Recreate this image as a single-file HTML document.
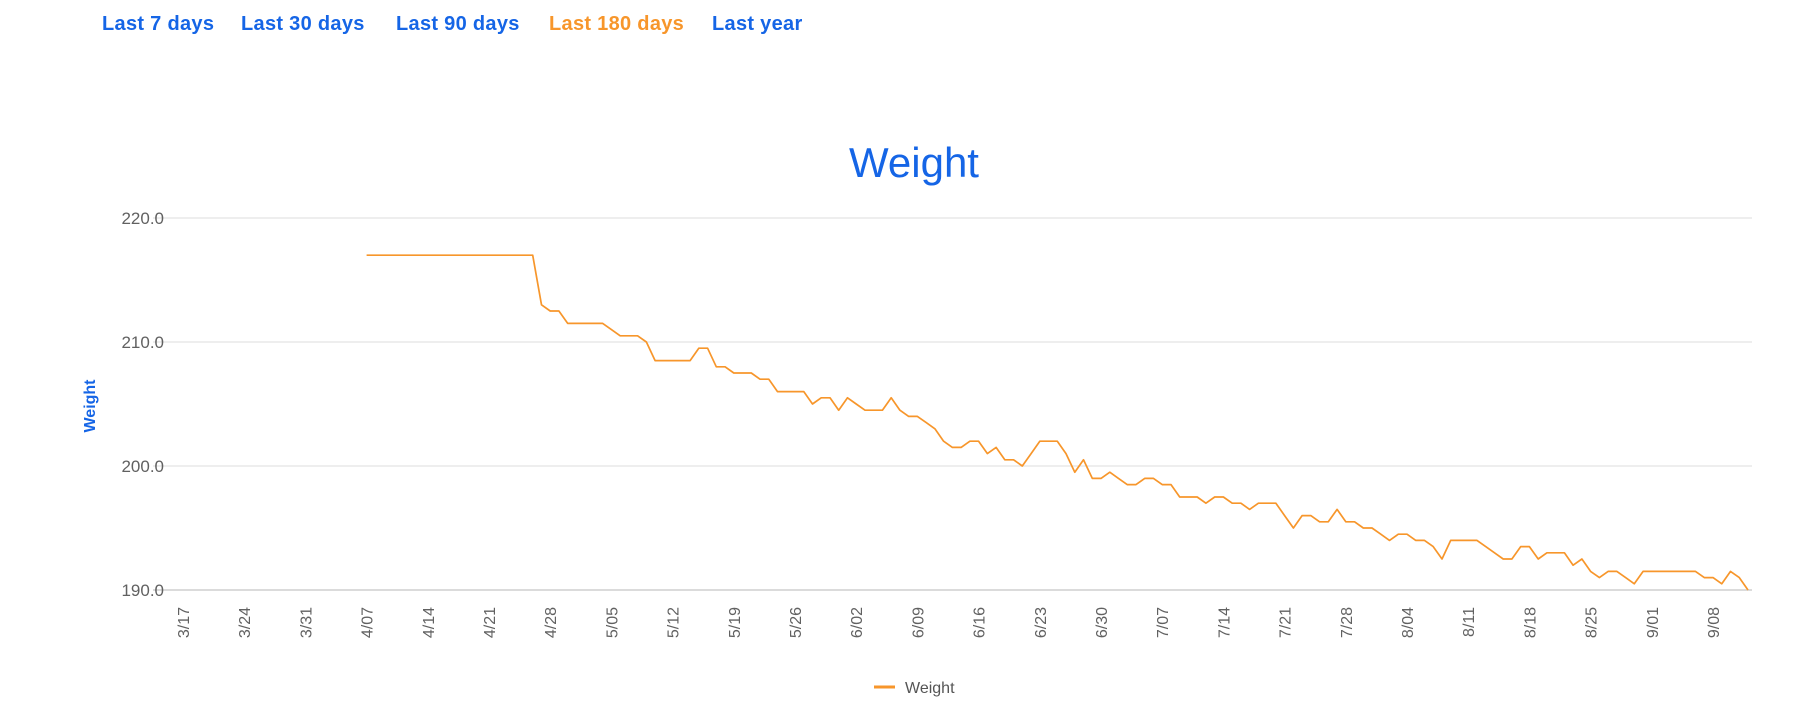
<!DOCTYPE html>
<html><head><meta charset="utf-8">
<style>
html,body{margin:0;padding:0;background:#fff;width:1794px;height:704px;overflow:hidden}
.tab{position:absolute;top:13px;font:bold 20px "Liberation Sans",sans-serif;letter-spacing:0.3px;color:#1565e6;white-space:nowrap}
svg{position:absolute;left:0;top:0}
</style></head><body>
<div class="tab" style="left:102px">Last 7 days</div>
<div class="tab" style="left:241px">Last 30 days</div>
<div class="tab" style="left:396px">Last 90 days</div>
<div class="tab" style="left:549px;color:#f7962b">Last 180 days</div>
<div class="tab" style="left:712px">Last year</div>
<svg id="s" width="1794" height="704" xmlns="http://www.w3.org/2000/svg" font-family="Liberation Sans, sans-serif">
<text x="914" y="177" text-anchor="middle" font-size="42" fill="#1565e6">Weight</text>
<g stroke="#e3e3e3" stroke-width="1.3">
<line x1="153" x2="1752" y1="218" y2="218"/>
<line x1="153" x2="1752" y1="342" y2="342"/>
<line x1="153" x2="1752" y1="466" y2="466"/>
</g>
<line x1="153" x2="1752" y1="590" y2="590" stroke="#cfcfcf" stroke-width="1.6"/>
<g font-size="17" fill="#616161" text-anchor="end">
<text x="164" y="224">220.0</text>
<text x="164" y="348">210.0</text>
<text x="164" y="472">200.0</text>
<text x="164" y="596">190.0</text>
</g>
<text transform="translate(95,406) rotate(-90)" text-anchor="middle" font-size="16" font-weight="bold" fill="#1565e6">Weight</text>
<g id="xl" font-size="16" fill="#616161"></g>
<polyline id="pl" fill="none" stroke="#f7962b" stroke-width="1.7" stroke-linejoin="round" points=""/>
<line x1="874" x2="895" y1="687" y2="687" stroke="#f7962b" stroke-width="3"/>
<text x="905" y="693" font-size="16" fill="#555">Weight</text>
</svg>
<script>
var v={};
function set(a,b,val){for(var d=a;d<=b;d++)v[d]=val;}
set(21,40,217);set(41,41,213);set(42,43,212.5);set(44,48,211.5);set(49,49,211);set(50,52,210.5);set(53,53,210);
set(54,58,208.5);set(59,60,209.5);set(61,62,208);set(63,65,207.5);set(66,67,207);set(68,71,206);set(72,72,205);
set(73,74,205.5);set(75,75,204.5);set(76,76,205.5);set(77,77,205);set(78,80,204.5);set(81,81,205.5);set(82,82,204.5);
set(83,84,204);set(85,85,203.5);set(86,86,203);set(87,87,202);set(88,89,201.5);set(90,91,202);set(92,92,201);
set(93,93,201.5);set(94,95,200.5);set(96,96,200);set(97,97,201);set(98,100,202);set(101,101,201);set(102,102,199.5);
set(103,103,200.5);set(104,105,199);set(106,106,199.5);set(107,107,199);set(108,109,198.5);set(110,111,199);
set(112,113,198.5);set(114,116,197.5);set(117,117,197);set(118,119,197.5);set(120,121,197);set(122,122,196.5);
set(123,125,197);set(126,126,196);set(127,127,195);set(128,129,196);set(130,131,195.5);set(132,132,196.5);
set(133,134,195.5);set(135,136,195);set(137,137,194.5);set(138,138,194);set(139,140,194.5);set(141,142,194);
set(143,143,193.5);set(144,144,192.5);set(145,148,194);set(149,149,193.5);set(150,150,193);set(151,152,192.5);
set(153,154,193.5);set(155,155,192.5);set(156,158,193);set(159,159,192);set(160,160,192.5);set(161,161,191.5);
set(162,162,191);set(163,164,191.5);set(165,165,191);set(166,166,190.5);set(167,173,191.5);set(174,175,191);
set(176,176,190.5);set(177,177,191.5);set(178,178,191);set(179,179,190);
function X(d){return 183+8.743*d;}
function Y(val){return 466-(val-200)*12.4;}
var p=[];for(var d=21;d<=179;d++)p.push(X(d).toFixed(1)+","+Y(v[d]).toFixed(1));
document.getElementById("pl").setAttribute("points",p.join(" "));
var labs=["3/17","3/24","3/31","4/07","4/14","4/21","4/28","5/05","5/12","5/19","5/26","6/02","6/09","6/16","6/23","6/30","7/07","7/14","7/21","7/28","8/04","8/11","8/18","8/25","9/01","9/08"];
var g=document.getElementById("xl"),ns="http://www.w3.org/2000/svg";
labs.forEach(function(l,i){var t=document.createElementNS(ns,"text");var x=X(i*7)+6;
t.setAttribute("transform","translate("+x.toFixed(1)+",607) rotate(-90)");t.setAttribute("text-anchor","end");t.textContent=l;g.appendChild(t);});
</script>
</body></html>
